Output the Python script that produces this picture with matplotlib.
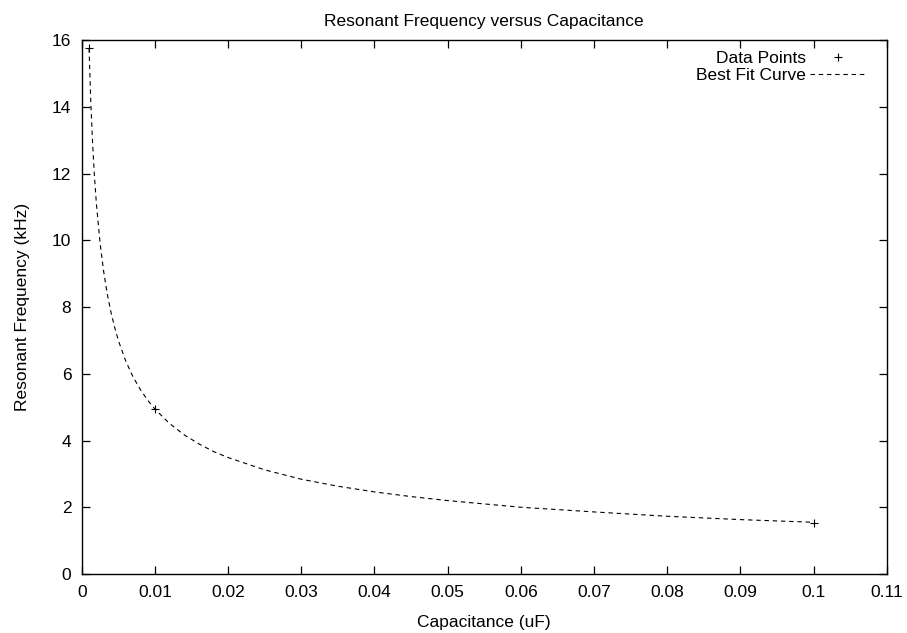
import matplotlib
matplotlib.use("Agg")
import matplotlib.pyplot as plt

# measured points (capacitance in uF, frequency in kHz)
cap = [0.001, 0.01, 0.1]
freq = [15.75, 4.95, 1.54]

# best fit curve
fit_cap = [0.001, 0.00125, 0.0015, 0.00175, 0.002, 0.0025, 0.003, 0.0035, 0.004,
           0.0045, 0.005, 0.006, 0.007, 0.008, 0.009, 0.010, 0.012, 0.014, 0.016,
           0.018, 0.020, 0.025, 0.030, 0.035, 0.040, 0.045, 0.050, 0.060, 0.070,
           0.080, 0.090, 0.100]
fit_freq = [15.75, 14.08, 12.84, 11.88, 11.11, 9.93, 9.06, 8.38, 7.84,
            7.39, 7.00, 6.39, 5.91, 5.53, 5.21, 4.94, 4.51, 4.17, 3.90,
            3.67, 3.49, 3.12, 2.84, 2.63, 2.46, 2.32, 2.20, 2.00, 1.86,
            1.73, 1.63, 1.55]

x_ticks = [0, 0.01, 0.02, 0.03, 0.04, 0.05, 0.06, 0.07, 0.08, 0.09, 0.1, 0.11]
x_labels = ["0", "0.01", "0.02", "0.03", "0.04", "0.05", "0.06", "0.07", "0.08", "0.09", "0.1", "0.11"]
y_ticks = [0, 2, 4, 6, 8, 10, 12, 14, 16]

plt.rcParams['font.family'] = ['Liberation Sans', 'DejaVu Sans']
font = 12.5

fig = plt.figure(figsize=(9.07, 6.33), dpi=100)
ax = fig.add_axes([0.0901, 0.0932, 0.8876, 0.8436])

ax.plot(cap, freq, linestyle="none", marker="+", color="black", markersize=6,
        markeredgewidth=0.8, label="Data Points")
ax.plot(fit_cap, fit_freq, color="black", linewidth=0.8, linestyle=(0, (4, 3.4)),
        label="Best Fit Curve")

ax.set_xlim(0, 0.11)
ax.set_ylim(0, 16)
ax.set_xticks(x_ticks)
ax.set_xticklabels(x_labels)
ax.set_yticks(y_ticks)
ax.tick_params(direction="in", length=6, width=0.9, top=True, right=True,
               labelsize=font)
ax.tick_params(axis="x", pad=8)
ax.tick_params(axis="y", pad=7.5)
for s in ax.spines.values():
    s.set_linewidth(1.0)

ax.set_xlabel("Capacitance (uF)", fontsize=font, labelpad=10.5)
ax.set_ylabel("Resonant Frequency (kHz)", fontsize=font, labelpad=16)
ax.set_title("Resonant Frequency versus Capacitance", fontsize=font, pad=10)

ax.legend(loc="upper right", bbox_to_anchor=(0.982, 0.989), frameon=False,
          markerfirst=False, fontsize=font, handlelength=3.3, handletextpad=0.2,
          labelspacing=0.1, borderaxespad=0, borderpad=0.3)

fig.savefig("out.png", dpi=100)
